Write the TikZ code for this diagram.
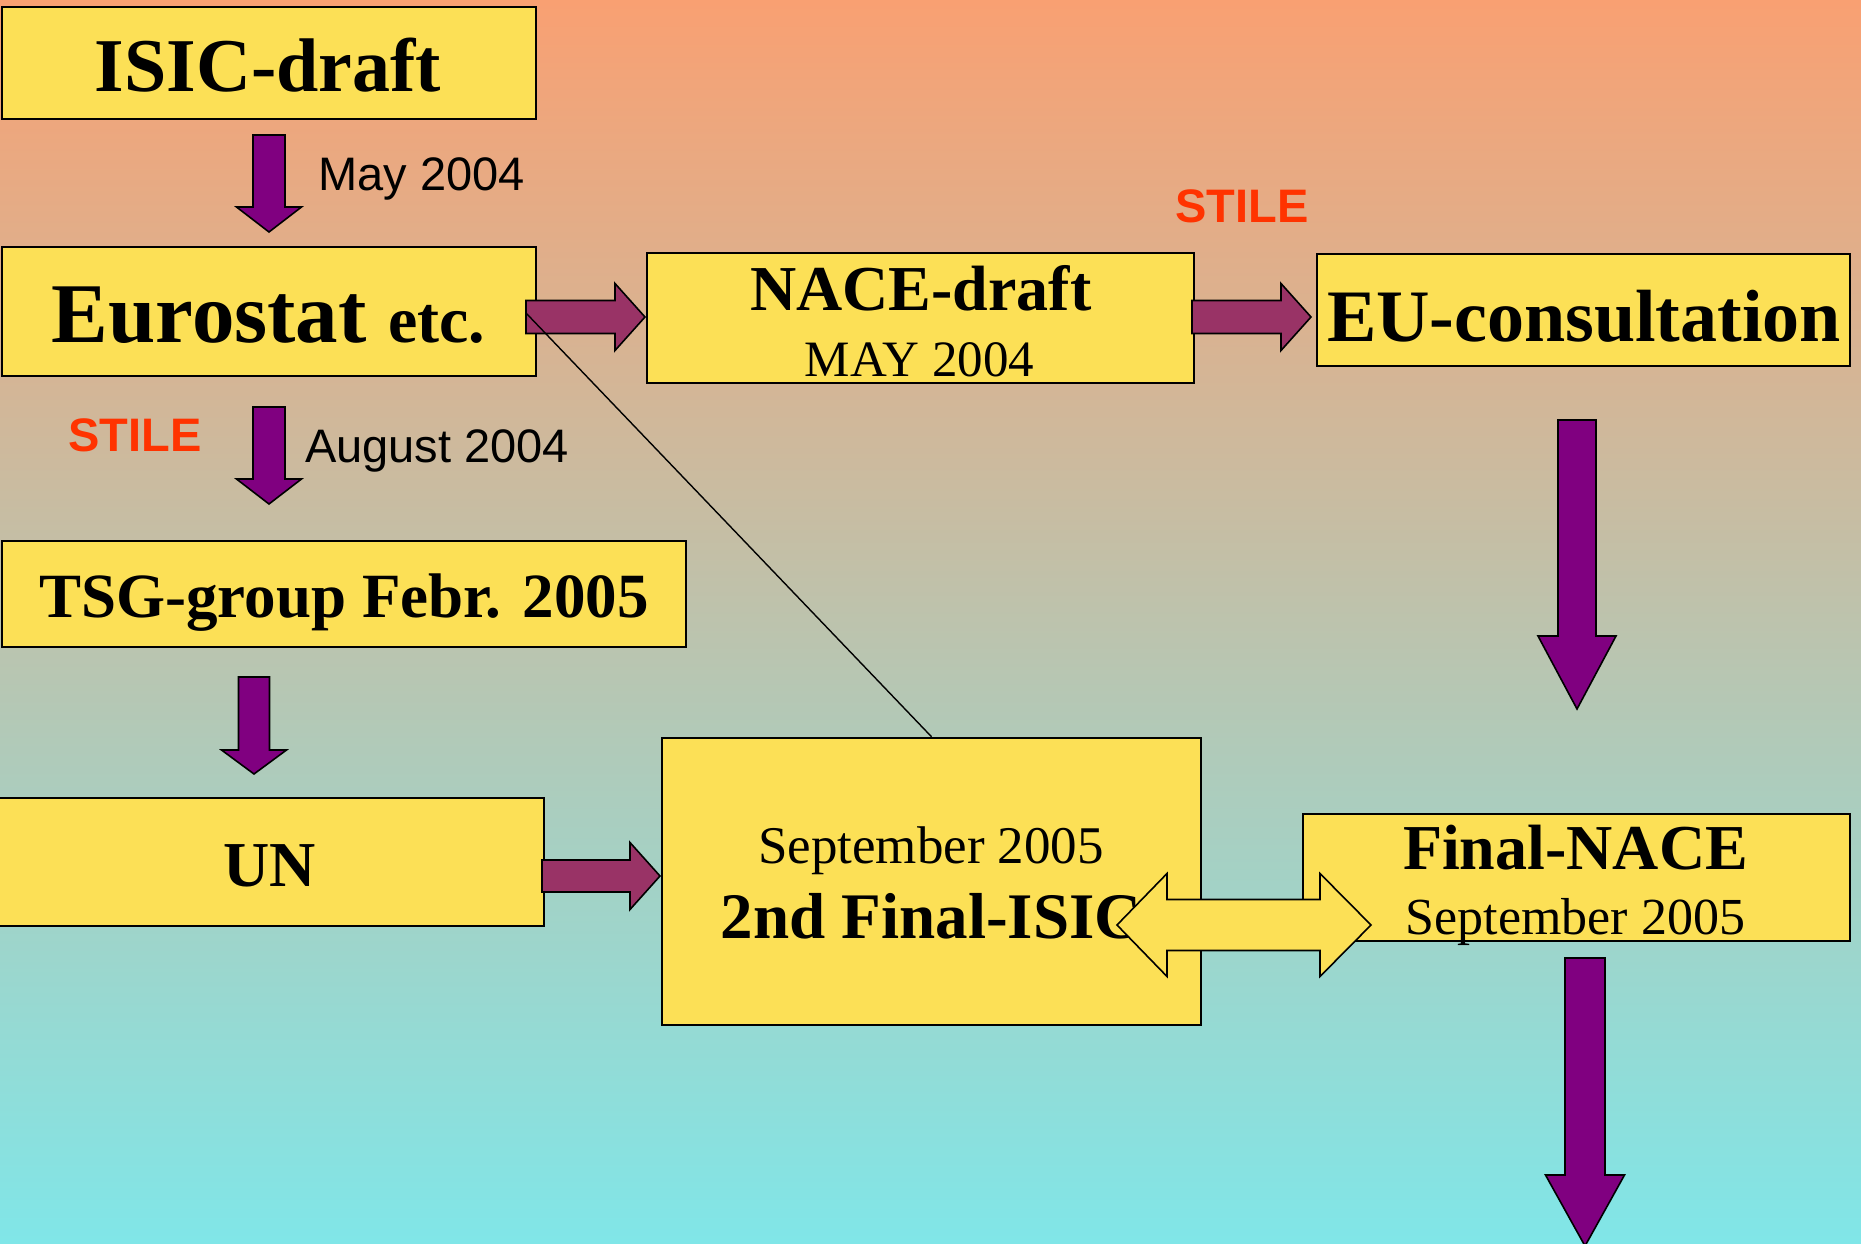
\documentclass[tikz,border=0pt]{standalone}
\usepackage{fontspec}
\setmainfont{Liberation Serif}
\setsansfont{Liberation Sans}
\usetikzlibrary{calc}
\definecolor{boxyellow}{RGB}{252,224,86}
\definecolor{downpurple}{RGB}{128,0,128}
\definecolor{rightplum}{RGB}{153,51,102}
\definecolor{stilered}{RGB}{255,51,0}
\definecolor{bgtop}{RGB}{249,160,114}
\definecolor{bgmid}{RGB}{188,206,194}
\definecolor{bgbot}{RGB}{128,230,232}
\newcommand{\fs}[1]{\fontsize{#1}{#1}\selectfont}
% vertical block arrow: style, start, tip, shaft half width, head half width, head length
\newcommand{\blkV}[6]{\path[#1] let \p1=(#2), \p2=(#3) in
  (\x1-#4pt,\y1) -- (\x1+#4pt,\y1) -- (\x1+#4pt,\y2+#6pt) -- (\x1+#5pt,\y2+#6pt) --
  (\x2,\y2) -- (\x1-#5pt,\y2+#6pt) -- (\x1-#4pt,\y2+#6pt) -- cycle;}
% horizontal block arrow: style, start, tip, shaft half width, head half width, head length
\newcommand{\blkH}[6]{\path[#1] let \p1=(#2), \p2=(#3) in
  (\x1,\y1+#4pt) -- (\x2-#6pt,\y1+#4pt) -- (\x2-#6pt,\y1+#5pt) -- (\x2,\y2) --
  (\x2-#6pt,\y1-#5pt) -- (\x2-#6pt,\y1-#4pt) -- (\x1,\y1-#4pt) -- cycle;}
\begin{document}
\begin{tikzpicture}[x=1pt,y=-1pt,
  box/.style={draw=black, line width=2.5pt, fill=boxyellow, inner sep=0pt},
  lbl/.style={anchor=base, inner sep=0pt, text=black},
  serifbig/.style={lbl, font=\bfseries},
  datelbl/.style={anchor=base west, inner sep=0pt, font=\sffamily\fs{47}},
  stilelbl/.style={anchor=base west, inner sep=0pt, font=\sffamily\bfseries\fs{47}, text=stilered},
  downarr/.style={draw=black, line width=1.6pt, fill=downpurple, line join=miter},
  rightarr/.style={draw=black, line width=1.6pt, fill=rightplum, line join=miter},
  dblarr/.style={draw=black, line width=1.6pt, fill=boxyellow, line join=miter},
  link/.style={draw=black, line width=1.4pt}]
\useasboundingbox (0,0) rectangle (1861,1244);
\shade[top color=bgtop, middle color=bgmid, bottom color=bgbot] (0,0) rectangle (1861,1244);

% boxes
\node[box, minimum width=534pt, minimum height=112pt] (isic) at (269,63) {};
\node[box, minimum width=534pt, minimum height=129pt] (euro) at (269,311.5) {};
\node[box, minimum width=547pt, minimum height=130pt] (nace) at (920.5,318) {};
\node[box, minimum width=533pt, minimum height=112pt] (eu) at (1583.5,310) {};
\node[box, minimum width=684pt, minimum height=106pt] (tsg) at (344,594) {};
\node[box, minimum width=547pt, minimum height=128pt] (un) at (270.5,862) {};
\node[box, minimum width=539pt, minimum height=287pt] (final2) at (931.5,881.5) {};
\node[box, minimum width=547pt, minimum height=127pt] (fnace) at (1576.5,877.5) {};

% texts
\node[serifbig, font=\bfseries\fs{76}] (isict) at (268,92) {ISIC-draft};
\node[lbl] (eurot) at (268.5,342) {\bfseries\fs{85}Eurostat \fs{66}etc.};
\node[serifbig, font=\bfseries\fs{64}] (nacet) at (921,310) {NACE-draft};
\node[lbl, font=\fs{51}] (naced) at (919.5,376) {MAY 2004};
\node[serifbig, font=\bfseries\fs{74}] (eut) at (1584,341) {EU-consultation};
\node[serifbig, font=\bfseries\fs{63}] (tsgt) at (344,617) {TSG-group Febr. 2005};
\node[serifbig, font=\bfseries\fs{64}] (unt) at (270,886) {UN};
\node[lbl, font=\fs{53}] (f2d) at (931,863) {September 2005};
\node[serifbig, font=\bfseries\fs{65}] (f2t) at (931,938) {2nd Final-ISIC};
\node[serifbig, font=\bfseries\fs{64}] (fnt) at (1575.5,869) {Final-NACE};
\node[lbl, font=\fs{52}] (fnd) at (1575.5,934) {September 2005};

\node[datelbl] (may) at (318,190) {May 2004};
\node[datelbl] (aug) at (305,462) {August 2004};
\node[stilelbl] (stile1) at (1175,222) {STILE};
\node[stilelbl] (stile2) at (68,451) {STILE};

% arrow end points
\coordinate (a1s) at (269,135);  \coordinate (a1t) at (269,232);
\coordinate (a2s) at (269,407);  \coordinate (a2t) at (269,504);
\coordinate (a3s) at (254,677);  \coordinate (a3t) at (254,774);
\coordinate (a4s) at (1577,420); \coordinate (a4t) at (1577,709);
\coordinate (a5s) at (1585,958); \coordinate (a5t) at (1585,1246);
\coordinate (h1s) at (526,317);  \coordinate (h1t) at (645,317);
\coordinate (h2s) at (1192,317); \coordinate (h2t) at (1311,317);
\coordinate (h3s) at (542,876);  \coordinate (h3t) at (660,876);
\coordinate (dl) at (1117,925);  \coordinate (dr) at (1371,925);
\coordinate (linestart) at (526,313);

\blkV{downarr}{a1s}{a1t}{16}{32.5}{25}
\blkV{downarr}{a2s}{a2t}{16}{32.5}{25}
\blkV{downarr}{a3s}{a3t}{15.5}{32.5}{24}
\blkV{downarr}{a4s}{a4t}{19}{39}{73}
\blkV{downarr}{a5s}{a5t}{20}{39.5}{71}
\blkH{rightarr}{h1s}{h1t}{16.5}{33.5}{30}
\blkH{rightarr}{h2s}{h2t}{16.5}{33.5}{30}
\blkH{rightarr}{h3s}{h3t}{16}{33.5}{30}

\path[dblarr] let \p1=(dl), \p2=(dr) in
  (\x1,\y1) -- (\x1+50pt,\y1+51.5pt) -- (\x1+50pt,\y1+25.5pt) -- (\x2-51pt,\y1+25.5pt) --
  (\x2-51pt,\y1+51.5pt) -- (\x2,\y2) -- (\x2-51pt,\y1-51.5pt) -- (\x2-51pt,\y1-25.5pt) --
  (\x1+50pt,\y1-25.5pt) -- (\x1+50pt,\y1-51.5pt) -- cycle;

\draw[link] (linestart) -- (final2.north);
\end{tikzpicture}
\end{document}
